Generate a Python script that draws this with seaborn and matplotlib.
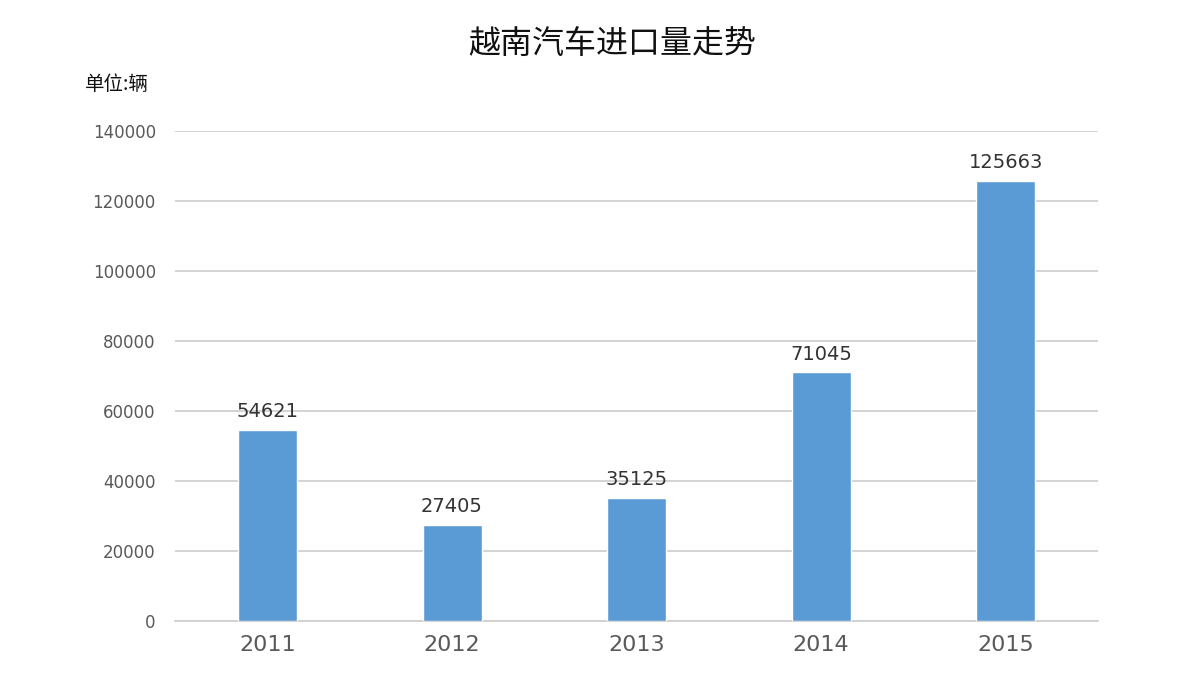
import matplotlib
matplotlib.use("Agg")
import matplotlib.pyplot as plt
import seaborn as sns
import pandas as pd

years = ["2011", "2012", "2013", "2014", "2015"]
imports = [54621, 27405, 35125, 71045, 125663]
yticks = [0, 20000, 40000, 60000, 80000, 100000, 120000, 140000]

sns.set_theme(style="white")
plt.rcParams['font.family'] = ['DejaVu Sans', 'Noto Sans CJK SC']

df = pd.DataFrame({"year": years, "count": imports})

fig = plt.figure(figsize=(12, 6.88), dpi=100)
ax = fig.add_axes([0.146, 0.097, 0.769, 0.713])
sns.barplot(data=df, x="year", y="count", color="#5B9BD5", width=0.32,
            saturation=1, ax=ax, zorder=3)

ax.set_ylim(0, 140000)
ax.set_yticks(yticks)
ax.set_yticklabels([str(v) for v in yticks])
ax.set_xlim(-0.5, 4.5)
ax.grid(axis="y", color="#D0D0D0", linewidth=1.3, zorder=0)
for s in ["top", "right", "left"]:
    ax.spines[s].set_visible(False)
ax.spines["bottom"].set_color("#D0D0D0")
ax.spines["bottom"].set_linewidth(1.3)
ax.tick_params(axis="y", labelsize=12, labelcolor="#595959", length=0, pad=14)
ax.tick_params(axis="x", labelsize=16, labelcolor="#595959", length=0, pad=10)
ax.set_xlabel("")
ax.set_ylabel("")

for i, v in enumerate(imports):
    ax.text(i, v + 2500, str(v), ha="center", va="bottom", fontsize=14, color="#333333")

cjk = ['Noto Sans CJK SC', 'DejaVu Sans']
fig.text(0.51, 0.935, "越南汽车进口量走势", ha="center", va="center", fontsize=23,
         color="#111111", family=cjk)
fig.text(0.071, 0.877, "单位:辆", ha="left", va="center", fontsize=14,
         color="#111111", family=cjk)

fig.savefig("out.png", dpi=100)
